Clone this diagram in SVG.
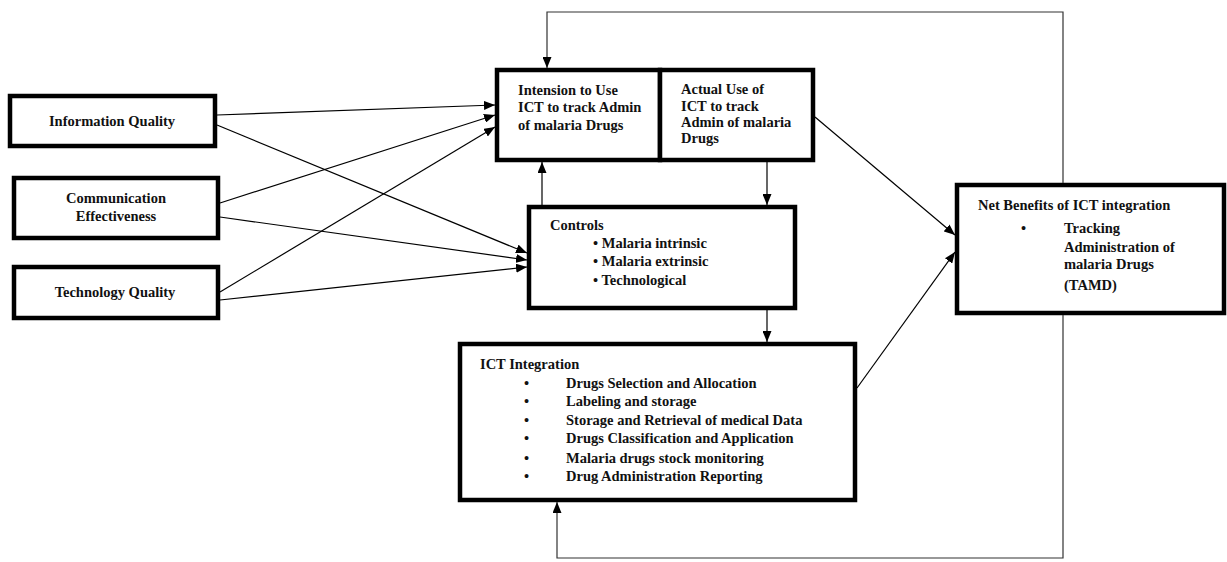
<svg xmlns="http://www.w3.org/2000/svg" width="1227" height="562" viewBox="0 0 1227 562">
<style>
.box{fill:#fff;stroke:#000;stroke-width:4.5}
text{font-family:'Liberation Serif','DejaVu Serif',serif;font-weight:bold;font-size:14.5px;fill:#111}
.c{text-anchor:middle}
.ln{fill:none;stroke:#000;stroke-width:1.2}
.fb{fill:none;stroke:#333;stroke-width:1.2}
</style>
<defs>
<marker id="ah" markerUnits="userSpaceOnUse" markerWidth="11" markerHeight="9" refX="11" refY="4.5" orient="auto">
<path d="M0,0 L11,4.5 L0,9 z" fill="#000"/>
</marker>
</defs>
<rect width="1227" height="562" fill="#fff"/>
<g id="info-quality">
<rect class="box" x="10" y="96" width="205" height="50"/>
<text class="c" x="112" y="126">Information Quality</text>
</g>
<g id="comm-effectiveness">
<rect class="box" x="14" y="178" width="204" height="60"/>
<text class="c" x="116" y="203">Communication</text>
<text class="c" x="116" y="221">Effectiveness</text>
</g>
<g id="tech-quality">
<rect class="box" x="14" y="267" width="204" height="51"/>
<text class="c" x="115" y="297">Technology Quality</text>
</g>
<g id="intension">
<rect class="box" x="497" y="70" width="163" height="90"/>
<text x="518" y="95">Intension to Use</text>
<text x="518" y="112">ICT to track Admin</text>
<text x="518" y="130">of malaria Drugs</text>
</g>
<g id="actual-use">
<rect class="box" x="660" y="70" width="153" height="90"/>
<text x="681" y="94">Actual Use of</text>
<text x="681" y="111">ICT to track</text>
<text x="681" y="127">Admin of malaria</text>
<text x="681" y="143">Drugs</text>
</g>
<g id="controls">
<rect class="box" x="529" y="207" width="266" height="101"/>
<text x="550" y="230">Controls</text>
<text x="593" y="248">• Malaria intrinsic</text>
<text x="593" y="266">• Malaria extrinsic</text>
<text x="593" y="285">• Technological</text>
</g>
<g id="ict-integration">
<rect class="box" x="460" y="344" width="395" height="156"/>
<text x="480" y="369">ICT Integration</text>
<text x="524" y="388">•</text><text x="566" y="388">Drugs Selection and Allocation</text>
<text x="524" y="406">•</text><text x="566" y="406">Labeling and storage</text>
<text x="524" y="425">•</text><text x="566" y="425">Storage and Retrieval of medical Data</text>
<text x="524" y="443">•</text><text x="566" y="443">Drugs Classification and Application</text>
<text x="524" y="463">•</text><text x="566" y="463">Malaria drugs stock monitoring</text>
<text x="524" y="481">•</text><text x="566" y="481">Drug Administration Reporting</text>
</g>
<g id="net-benefits">
<rect class="box" x="957" y="185" width="267" height="128"/>
<text x="978" y="210">Net Benefits of ICT integration</text>
<text x="1021" y="233">•</text>
<text x="1064" y="233">Tracking</text>
<text x="1064" y="252">Administration of</text>
<text x="1064" y="269">malaria Drugs</text>
<text x="1064" y="290">(TAMD)</text>
</g>
<g id="connectors">
<line class="ln" x1="217" y1="115" x2="495" y2="105" marker-end="url(#ah)"/>
<line class="ln" x1="217" y1="125" x2="527" y2="253" marker-end="url(#ah)"/>
<line class="ln" x1="220" y1="203" x2="495" y2="115" marker-end="url(#ah)"/>
<line class="ln" x1="220" y1="217" x2="527" y2="260" marker-end="url(#ah)"/>
<line class="ln" x1="220" y1="292" x2="495" y2="127" marker-end="url(#ah)"/>
<line class="ln" x1="220" y1="300" x2="527" y2="267" marker-end="url(#ah)"/>
<line class="ln" x1="542" y1="205" x2="542" y2="162" marker-end="url(#ah)"/>
<line class="ln" x1="767" y1="162" x2="767" y2="205" marker-end="url(#ah)"/>
<line class="ln" x1="767" y1="310" x2="767" y2="342" marker-end="url(#ah)"/>
<line class="ln" x1="815" y1="117" x2="955" y2="235" marker-end="url(#ah)"/>
<line class="ln" x1="857" y1="388" x2="955" y2="252" marker-end="url(#ah)"/>
<path class="fb" d="M1063,183 V12 H547 V68" marker-end="url(#ah)"/>
<path class="fb" d="M1063,315 V558 H557 V502" marker-end="url(#ah)"/>
</g>
</svg>
